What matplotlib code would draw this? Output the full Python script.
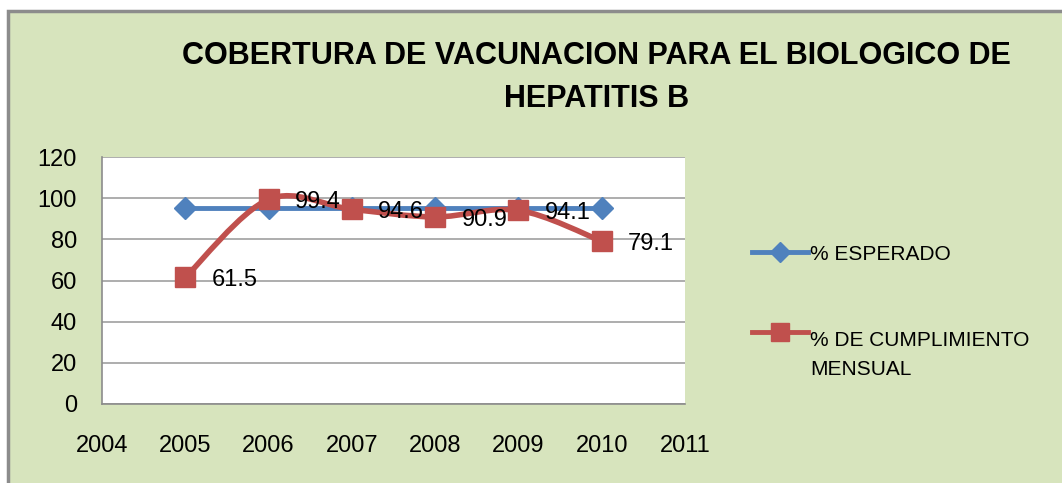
import numpy as np
import matplotlib.pyplot as plt
from matplotlib.patches import Rectangle
from matplotlib.path import Path
from matplotlib.patches import PathPatch
from matplotlib.lines import Line2D

years = [2005, 2006, 2007, 2008, 2009, 2010]
esperado = [95, 95, 95, 95, 95, 95]
cumplimiento = [61.5, 99.4, 94.6, 90.9, 94.1, 79.1]
title = "COBERTURA DE VACUNACION PARA EL BIOLOGICO DE\nHEPATITIS B"
label_esp = "% ESPERADO"
label_cum = "% DE CUMPLIMIENTO\nMENSUAL"

blue = "#4F81BD"
red = "#C0504D"
green_bg = "#D7E4BD"

plt.rcParams['font.family'] = ['Liberation Sans', 'DejaVu Sans']

fig = plt.figure(figsize=(10.62, 4.83), dpi=100)
fig.patch.set_facecolor("white")
W, H = 1062.0, 483.0

# chart frame (green panel with gray border)
frame = Rectangle((8 / W, -0.05), 1.1, (H - 11) / H + 0.05, transform=fig.transFigure,
                  facecolor=green_bg, edgecolor="#8C8C8C", lw=2.5, zorder=-5)
fig.patches.append(frame)

ax = fig.add_axes([102 / W, 79 / H, 583 / W, 247 / H])
ax.set_zorder(2)
ax.set_facecolor("white")
ax.set_xlim(2004, 2011)
ax.set_ylim(0, 120)
ax.set_yticks(range(0, 121, 20))
ax.set_xticks(range(2004, 2012))
ax.grid(axis="y", color="#A0A0A0", lw=1.2)
ax.set_axisbelow(True)
for s in ["top", "right"]:
    ax.spines[s].set_visible(False)
for s in ["left", "bottom"]:
    ax.spines[s].set_color("#8C8C8C")
    ax.spines[s].set_linewidth(1.2)
ax.tick_params(length=0, labelsize=17, colors="black")
ax.tick_params(axis="x", pad=22)
ax.tick_params(axis="y", pad=18)

# expected line
ax.plot(years, esperado, color=blue, lw=3.5, marker="D", ms=11,
        markerfacecolor=blue, markeredgecolor=blue, zorder=3)

# smoothed red line (Catmull-Rom -> bezier through the data points)
x = np.array(years, dtype=float)
y = np.array(cumplimiento, dtype=float)
verts = [(x[0], y[0])]
codes = [Path.MOVETO]
for i in range(len(x) - 1):
    p0 = np.array([x[max(i - 1, 0)], y[max(i - 1, 0)]])
    p1 = np.array([x[i], y[i]])
    p2 = np.array([x[i + 1], y[i + 1]])
    p3 = np.array([x[min(i + 2, len(x) - 1)], y[min(i + 2, len(x) - 1)]])
    c1 = p1 + (p2 - p0) / 6.0
    c2 = p2 - (p3 - p1) / 6.0
    verts += [tuple(c1), tuple(c2), tuple(p2)]
    codes += [Path.CURVE4] * 3
ax.add_patch(PathPatch(Path(verts, codes), facecolor="none", edgecolor=red,
                       lw=4, zorder=4, capstyle="round", joinstyle="round"))
ax.plot(years, cumplimiento, ls="none", marker="s", ms=14,
        markerfacecolor=red, markeredgecolor=red, zorder=5)

for xv, yv in zip(years, cumplimiento):
    ax.annotate(f"{yv}", (xv, yv), xytext=(19, -2), textcoords="offset points",
                ha="left", va="center", fontsize=17, color="black", zorder=6)

fig.text(0.562, 0.84, title, ha="center", va="center", fontsize=22,
         fontweight="bold", linespacing=1.55)

# legend drawn by hand (handle sits on first text line)
leg_rows = [(252, blue, "D", 10, label_esp), (332, red, "s", 13, label_cum)]
for ypix, col, mk, ms, lab in leg_rows:
    yf = 1 - ypix / H
    fig.add_artist(Line2D([752 / W, 808 / W], [yf, yf], transform=fig.transFigure,
                          color=col, lw=3.5))
    fig.add_artist(Line2D([780 / W], [yf], transform=fig.transFigure, color=col,
                          marker=mk, ms=ms, ls="none"))
    nlines = lab.count("\n")
    fig.text(810 / W, 1 - (ypix + 8 + nlines * 35) / H, lab, ha="left",
             va="baseline", fontsize=15, linespacing=1.65,
             transform=fig.transFigure)

fig.savefig("out.png", dpi=100, facecolor=fig.get_facecolor())
